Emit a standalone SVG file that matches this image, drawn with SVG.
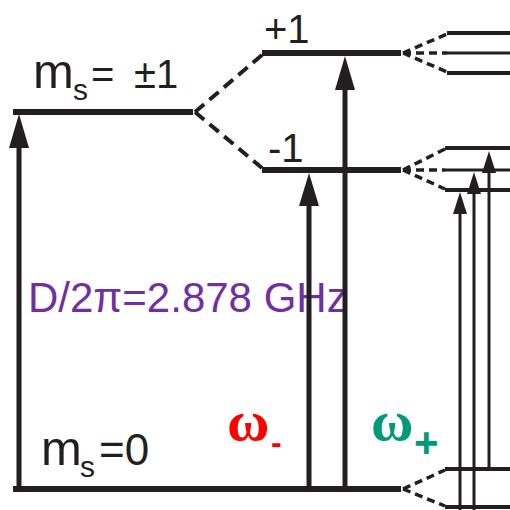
<svg xmlns="http://www.w3.org/2000/svg" width="510" height="510" viewBox="0 0 510 510">
<style>
.lvl{stroke:#231f20;stroke-width:6;fill:none}
.lvl2{stroke:#231f20;stroke-width:4;fill:none}
.dash{stroke:#231f20;stroke-width:4;fill:none;stroke-dasharray:12 7}
.dash2{stroke:#231f20;stroke-width:3.5;fill:none;stroke-dasharray:8 5}
.ax{stroke:#231f20;stroke-width:5;fill:none}
.ax2{stroke:#231f20;stroke-width:3;fill:none}
.head{fill:#231f20}
.t{font-family:"Liberation Sans",Arial,sans-serif;fill:#231f20}
.w{font-family:"Liberation Serif","Times New Roman",serif;font-weight:bold}
</style>
<rect width="510" height="510" fill="#ffffff"/>
<g id="level-ms1">
<line class="lvl" x1="13" y1="112" x2="193" y2="112"/>
<text class="t" y="88"><tspan x="33" font-size="49">m</tspan><tspan x="73" y="100" font-size="30">s</tspan><tspan x="91" y="88" font-size="40">=</tspan><tspan x="134" font-size="40">±1</tspan></text>
</g>
<g id="level-ms0">
<line class="lvl" x1="13" y1="489" x2="401" y2="489"/>
<text class="t" y="465"><tspan x="41" font-size="49">m</tspan><tspan x="80" y="477" font-size="30">s</tspan><tspan x="99" y="465" font-size="44">=0</tspan></text>
</g>
<g id="level-plus1">
<line class="lvl" x1="262" y1="53" x2="401" y2="53"/>
<text class="t" x="264" y="43" font-size="40">+1</text>
</g>
<g id="level-minus1">
<line class="lvl" x1="262" y1="170" x2="401" y2="170"/>
<text class="t" x="268" y="162" font-size="40">-1</text>
</g>
<g id="fine-plus1">
<line class="lvl2" x1="447" y1="33" x2="510" y2="33"/>
<line class="ax2" x1="447" y1="53" x2="510" y2="53"/>
<line class="lvl2" x1="447" y1="73" x2="510" y2="73"/>
</g>
<g id="fine-minus1">
<line class="lvl2" x1="445" y1="148" x2="510" y2="148"/>
<line class="ax2" x1="445" y1="170" x2="510" y2="170"/>
<line class="lvl2" x1="445" y1="190" x2="510" y2="190"/>
</g>
<g id="fine-ms0">
<line class="lvl2" x1="445" y1="469" x2="510" y2="469"/>
<line class="lvl2" x1="445" y1="507" x2="510" y2="507"/>
</g>
<g id="label-D">
<text x="28" y="312" font-family="Liberation Sans,Arial,sans-serif" font-size="42" fill="#7030a0">D/2π=2.878 GHz</text>
</g>
<g id="label-wminus">
<text class="w" x="227" y="440" font-size="58" fill="#ff0000">ω</text>
<text x="271" y="453" font-family="Liberation Sans,Arial,sans-serif" font-weight="bold" font-size="32" fill="#ff0000">-</text>
</g>
<g id="label-wplus">
<text class="w" x="371" y="440" font-size="58" fill="#00997a">ω</text>
<text x="414" y="457" font-family="Liberation Sans,Arial,sans-serif" font-weight="bold" font-size="42" fill="#00997a">+</text>
</g>
<g id="connectors">
<line class="dash" x1="195" y1="112" x2="262" y2="55"/>
<line class="dash" x1="195" y1="112" x2="262" y2="168"/>
<line class="dash2" x1="403" y1="53" x2="447" y2="34"/>
<line class="dash2" x1="403" y1="53" x2="447" y2="53"/>
<line class="dash2" x1="403" y1="53" x2="447" y2="72"/>
<line class="dash2" x1="403" y1="170" x2="445" y2="149"/>
<line class="dash2" x1="403" y1="170" x2="445" y2="170"/>
<line class="dash2" x1="403" y1="170" x2="445" y2="189"/>
<line class="dash2" x1="403" y1="489" x2="445" y2="470"/>
<line class="dash2" x1="403" y1="489" x2="445" y2="506"/>
<line class="ax" x1="19" y1="489" x2="19" y2="140"/>
<polygon class="head" points="19,114 9,148 29,148"/>
<line class="ax" x1="309" y1="489" x2="309" y2="200"/>
<polygon class="head" points="309,173 299,206 319,206"/>
<line class="ax" x1="345" y1="489" x2="345" y2="84"/>
<polygon class="head" points="345,56 335,90 355,90"/>
<line class="ax2" x1="460" y1="510" x2="460" y2="205"/>
<polygon class="head" points="460,192 453,214 467,214"/>
<line class="ax2" x1="474" y1="510" x2="474" y2="185"/>
<polygon class="head" points="474,172 467,194 481,194"/>
<line class="ax2" x1="489" y1="469" x2="489" y2="165"/>
<polygon class="head" points="489,151 482,173 496,173"/>
</g>
</svg>
